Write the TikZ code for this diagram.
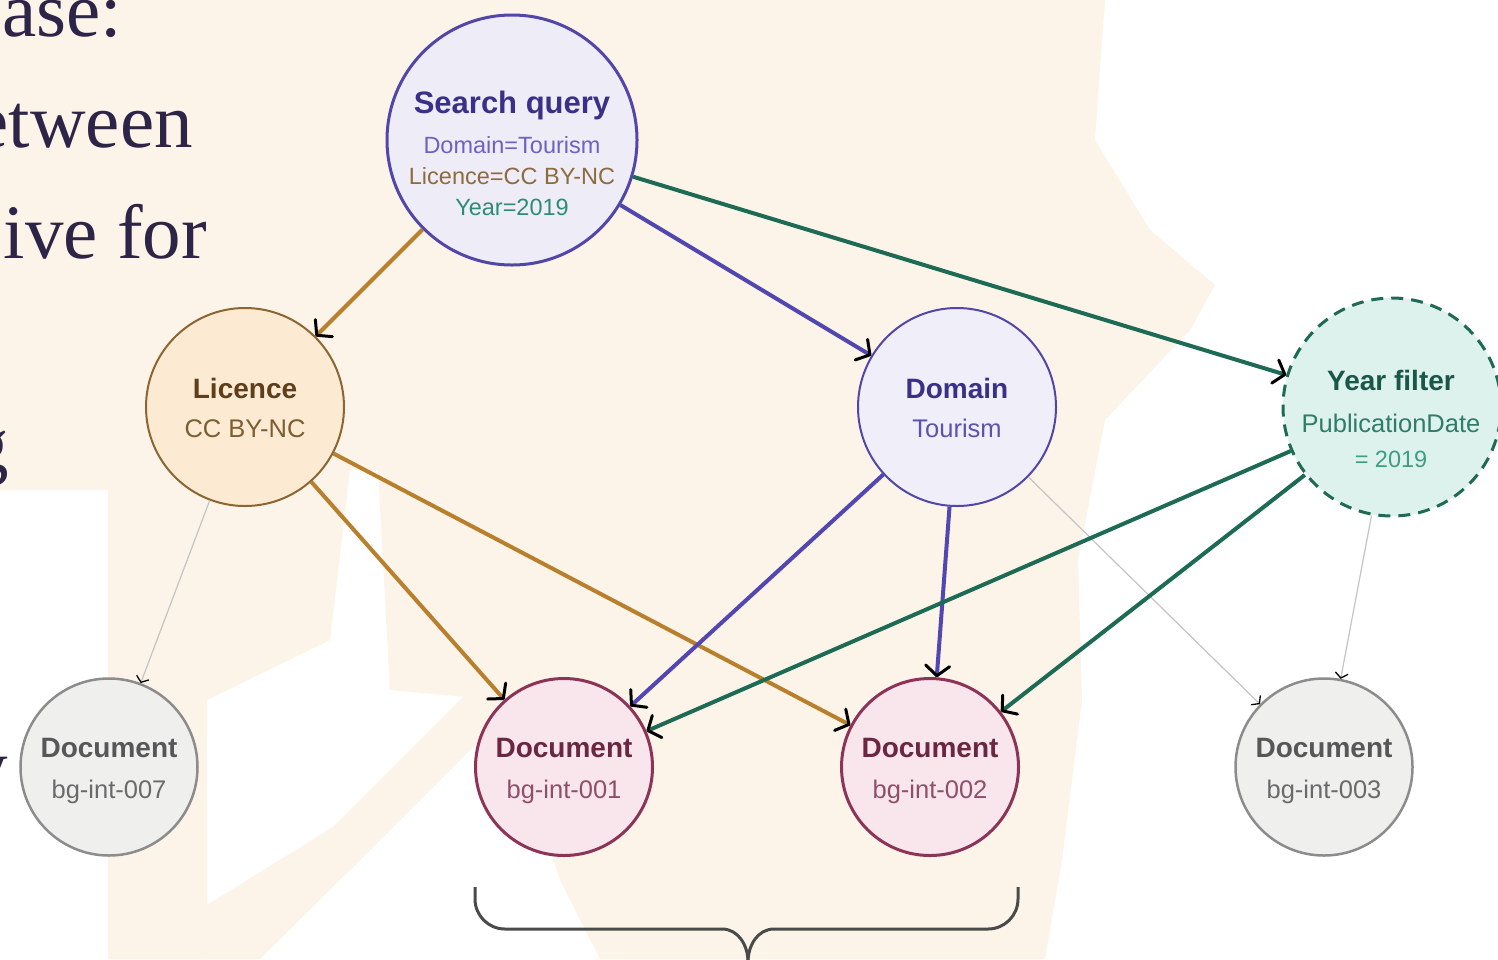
\documentclass[tikz,border=0pt]{standalone}
\usepackage{fontspec}
\setmainfont{Liberation Serif}
\newfontfamily\sansfam{Liberation Sans}
\usetikzlibrary{arrows.meta}
\definecolor{bgbeige}{HTML}{FCF4E8}
\definecolor{slidetext}{HTML}{2D2448}
\definecolor{sqborder}{HTML}{5246A8}
\definecolor{sqfill}{HTML}{EEEDF7}
\definecolor{sqtitle}{HTML}{3A3088}
\definecolor{sqone}{HTML}{6D62C3}
\definecolor{sqtwo}{HTML}{8D6B3E}
\definecolor{sqthree}{HTML}{2E8C76}
\definecolor{licborder}{HTML}{8C6532}
\definecolor{licfill}{HTML}{FCEBD2}
\definecolor{lictitle}{HTML}{5E3F1B}
\definecolor{licsub}{HTML}{7D5D32}
\definecolor{domfill}{HTML}{EFEEF9}
\definecolor{domsub}{HTML}{5D52AE}
\definecolor{yrborder}{HTML}{1E6A53}
\definecolor{yrfill}{HTML}{DDF2EC}
\definecolor{yrtitle}{HTML}{1B5646}
\definecolor{yrsub}{HTML}{2F7C68}
\definecolor{yrsubb}{HTML}{3D9E83}
\definecolor{pkborder}{HTML}{8C3358}
\definecolor{pkfill}{HTML}{F9E6EC}
\definecolor{pktitle}{HTML}{6B2642}
\definecolor{pksub}{HTML}{8E4F68}
\definecolor{gyborder}{HTML}{8C8C8C}
\definecolor{gyfill}{HTML}{EFEFED}
\definecolor{gytitle}{HTML}{575757}
\definecolor{gysub}{HTML}{6A6A6A}
\definecolor{brownline}{HTML}{B8802C}
\definecolor{purpleline}{HTML}{5246B0}
\definecolor{greenline}{HTML}{1D6B54}
\definecolor{thinline}{HTML}{C4C4C4}
\definecolor{bracecol}{HTML}{4A4A4A}
\begin{document}
\begin{tikzpicture}[x=1pt,y=-1pt,
  circnode/.style={circle, inner sep=0pt},
  lab/.style={anchor=base, inner sep=0pt},
  ttl/.style={lab, font=\sansfam\bfseries\fontsize{28}{30}\selectfont},
  sub/.style={lab, font=\sansfam\fontsize{25.5}{28}\selectfont},
  sqsub/.style={lab, font=\sansfam\fontsize{23.5}{26}\selectfont},
  slide/.style={inner sep=0pt, text=slidetext, font=\fontsize{77}{88}\selectfont},
  bigtip/.style={-{Straight Barb[black,length=10pt,width=24pt,line width=3pt,round]}},
  brownedge/.style={line width=4pt, draw=brownline, bigtip},
  purpleedge/.style={line width=4pt, draw=purpleline, bigtip},
  greenedge/.style={line width=4pt, draw=greenline, bigtip},
  thinedge/.style={line width=1.2pt, draw=thinline, -{Straight Barb[black,length=5pt,width=13pt,line width=1.3pt]}},
  pinkdoc/.style={circnode, minimum size=177pt, draw=pkborder, line width=3pt, fill=pkfill},
  greydoc/.style={circnode, minimum size=177pt, draw=gyborder, line width=2.5pt, fill=gyfill}
]
\useasboundingbox (0,0) rectangle (1498,959);
\clip (0,0) rectangle (1498,959);
% background
\fill[white] (0,0) rectangle (1498,959);
\fill[bgbeige] (0,0) -- (1105,0) -- (1095,140) -- (1150,230) -- (1215,285) -- (1190,330) -- (1105,420) -- (1078,560) -- (1082,700) -- (1062,860) -- (1045,959) -- (600,959) -- (560,880) -- (500,700) -- (390,690) -- (378,470) -- (350,470) -- (330,640) -- (207,700) -- (207,959) -- (108,959) -- (108,490) -- (0,490) -- cycle;
\fill[bgbeige] (207,905) -- (333,827) -- (500,660) -- (520,700) -- (350,870) -- (260,959) -- (207,959) -- cycle;
% left slide text
\node[slide, anchor=base west] (ta) at (2,36) {ase:};
\node[slide, anchor=base east] (tb) at (193,147) {etween};
\node[slide, anchor=base east] (tc) at (207,258) {ive for};
\node[slide, anchor=base east] (td) at (9,470) {g};
\node[slide, anchor=base east] (te) at (8,792) {y};
% circles
\node[circnode, minimum size=250pt, draw=sqborder, line width=3pt, fill=sqfill] (sq) at (512,140) {};
\node[circnode, minimum size=198pt, draw=licborder, line width=2pt, fill=licfill] (lic) at (245,407) {};
\node[circnode, minimum size=198pt, draw=sqborder, line width=2pt, fill=domfill] (dom) at (957,407) {};
\node[circnode, minimum size=218pt, draw=yrborder, line width=3pt, dash pattern=on 12pt off 8pt, fill=yrfill] (yr) at (1392,407) {};
\node[greydoc] (d7) at (109,767) {};
\node[pinkdoc] (d1) at (564,767) {};
\node[pinkdoc] (d2) at (930,767) {};
\node[greydoc] (d3) at (1324,767) {};
% texts
\node[ttl, text=sqtitle, font=\sansfam\bfseries\fontsize{31}{32}\selectfont] (sqa) at (512,113) {Search query};
\node[sqsub, text=sqone] (sqb) at (512,153) {Domain=Tourism};
\node[sqsub, text=sqtwo] (sqc) at (512,184) {Licence=CC BY-NC};
\node[sqsub, text=sqthree] (sqd) at (512,215) {Year=2019};
\node[ttl, text=lictitle] (lica) at (245,398) {Licence};
\node[sub, text=licsub] (licb) at (245,437) {CC BY-NC};
\node[ttl, text=sqtitle] (doma) at (957,398) {Domain};
\node[sub, text=domsub] (domb) at (957,437) {Tourism};
\node[ttl, text=yrtitle] (yra) at (1391,390) {Year filter};
\node[sub, text=yrsub] (yrb) at (1391,432) {PublicationDate};
\node[sub, text=yrsubb, font=\sansfam\fontsize{23.5}{26}\selectfont] (yrc) at (1391,467) {= 2019};
\node[ttl, text=gytitle] (d7a) at (109,757) {Document};
\node[sub, text=gysub] (d7b) at (109,798) {bg-int-007};
\node[ttl, text=pktitle] (d1a) at (564,757) {Document};
\node[sub, text=pksub] (d1b) at (564,798) {bg-int-001};
\node[ttl, text=pktitle] (d2a) at (930,757) {Document};
\node[sub, text=pksub] (d2b) at (930,798) {bg-int-002};
\node[ttl, text=gytitle] (d3a) at (1324,757) {Document};
\node[sub, text=gysub] (d3b) at (1324,798) {bg-int-003};
% thin edges
\draw[thinedge] (lic) -- (d7);
\draw[thinedge] (dom) -- (d3);
\draw[thinedge] (yr) -- (d3);
% thick edges
\draw[brownedge] (sq) -- (lic);
\draw[purpleedge] (sq) -- (dom);
\draw[greenedge] (sq) -- (yr);
\draw[brownedge] (lic) -- (d1);
\draw[brownedge] (lic) -- (d2);
\draw[purpleedge] (dom) -- (d1);
\draw[purpleedge] (dom) -- (d2);
\draw[greenedge] (yr) -- (d1);
\draw[greenedge] (yr) -- (d2);
% brace
\coordinate (bl) at (475,887);
\coordinate (br) at (1018,887);
\coordinate (bm) at (748,962);
\draw[line width=3pt, draw=bracecol, rounded corners=30pt] (bl) -- (475,929) -- (722,929);
\draw[line width=3pt, draw=bracecol] (722,929) to[out=0,in=90] (bm);
\draw[line width=3pt, draw=bracecol, rounded corners=30pt] (br) -- (1018,929) -- (774,929);
\draw[line width=3pt, draw=bracecol] (774,929) to[out=180,in=90] (bm);
\end{tikzpicture}
\end{document}
